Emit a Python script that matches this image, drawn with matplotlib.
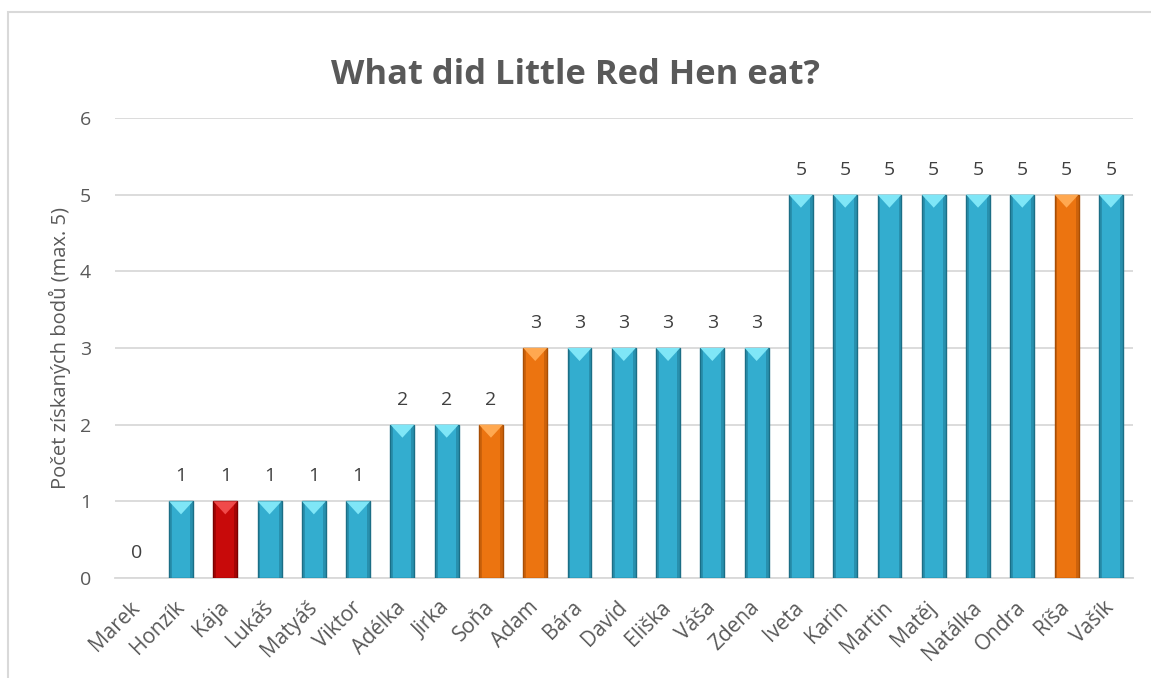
import matplotlib.pyplot as plt
from matplotlib.patches import Polygon, Rectangle

jmena = ['Marek', 'Honzík', 'Kája', 'Lukáš', 'Matyáš', 'Viktor', 'Adélka', 'Jirka',
         'Soňa', 'Adam', 'Bára', 'David', 'Eliška', 'Váša', 'Zdena', 'Iveta', 'Karin',
         'Martin', 'Matěj', 'Natálka', 'Ondra', 'Ríša', 'Vašík']
body = [0, 1, 1, 1, 1, 1, 2, 2, 2, 3, 3, 3, 3, 3, 3, 5, 5, 5, 5, 5, 5, 5, 5]
skupina = ['b', 'b', 'r', 'b', 'b', 'b', 'b', 'b', 'o', 'o', 'b', 'b', 'b', 'b', 'b',
           'b', 'b', 'b', 'b', 'b', 'b', 'o', 'b']

# barvy: hlavní, okraj, světlý vrchol
barvy = {
    'b': ('#33ADCF', '#1B6E86', '#7FE6F7'),
    'r': ('#C80A0A', '#7A0000', '#F04A4A'),
    'o': ('#EC7410', '#A84E05', '#FFA850'),
}

plt.rcParams['font.family'] = ['Open Sans', 'DejaVu Sans']

fig = plt.figure(figsize=(11.51, 6.78), dpi=100)
ax = fig.add_axes([114.6 / 1151, 100 / 678, (1133 - 114.6) / 1151, (578 - 118) / 678])

x = list(range(len(jmena)))
sloupce = ax.bar(x, body, width=0.54, color=[barvy[s][0] for s in skupina],
                 edgecolor=[barvy[s][1] for s in skupina],
                 linewidth=[1.0 if v > 0 else 0 for v in body], zorder=3)

# jednoduchý "bevel" efekt: tmavší boky a světlý trojúhelník nahoře
for p, s in zip(sloupce, skupina):
    h = p.get_height()
    if h <= 0:
        continue
    x0, w = p.get_x(), p.get_width()
    ax.add_patch(Rectangle((x0, 0), w * 0.12, h, color=barvy[s][1], alpha=0.45, lw=0, zorder=4))
    ax.add_patch(Rectangle((x0 + w * 0.88, 0), w * 0.12, h, color=barvy[s][1], alpha=0.45, lw=0, zorder=4))
    ax.add_patch(Polygon([(x0, h), (x0 + w, h), (x0 + w / 2, h - 0.17)],
                         closed=True, color=barvy[s][2], lw=0, zorder=5))

for xi, v in zip(x, body):
    ax.text(xi, v + 0.21, str(v), ha='center', va='bottom', fontsize=14, color='#404040')

ax.set_ylim(0, 6)
ax.set_xlim(-0.5, len(jmena) - 0.5)
ax.set_yticks(range(7))
ax.set_xticks(x)
ax.set_xticklabels(jmena, rotation=45, ha='right', va='center', rotation_mode='anchor',
                   fontsize=15, color='#595959')
ax.tick_params(axis='y', labelsize=14, labelcolor='#595959', length=0, pad=17)
ax.tick_params(axis='x', length=0, pad=19)
ax.grid(axis='y', color='#D9D9D9', linewidth=1.3, zorder=0)
for s in ['top', 'right', 'left']:
    ax.spines[s].set_visible(False)
ax.spines['bottom'].set_color('#D9D9D9')
ax.spines['bottom'].set_linewidth(1.3)

ax.set_ylabel('Počet získaných bodů (max. 5)', fontsize=14.5, color='#595959', labelpad=6)
fig.text(0.5, 1 - 75 / 678, 'What did Little Red Hen eat?', ha='center', va='center',
         fontsize=24.8, fontweight='bold', color='#595959')

# rámeček grafu
fig.patches.append(Rectangle((8 / 1151, -0.05), 1.2, 1 - 12 / 678 + 0.05, transform=fig.transFigure,
                             fill=False, edgecolor='#D9D9D9', linewidth=1.5))

fig.savefig('out.png', dpi=100)
